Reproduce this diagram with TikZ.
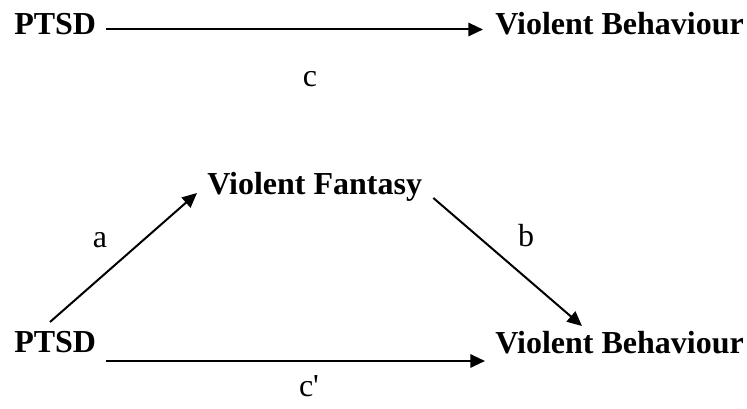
\documentclass[tikz,border=0pt]{standalone}
\usepackage{fontspec}
\setmainfont{Liberation Serif}
\usetikzlibrary{arrows.meta}
\begin{document}
\begin{tikzpicture}[x=0.75pt,y=-0.75pt,
  boxlbl/.style={font=\fontsize{24}{28}\selectfont\bfseries, inner sep=0pt, anchor=base west},
  edgelbl/.style={font=\fontsize{24}{28}\selectfont, inner sep=0pt, anchor=base},
  arr/.style={line width=1.5pt, -{Triangle[length=11pt,width=10pt]}}]
\useasboundingbox (0,0) rectangle (747,409);
% top model
\node[boxlbl] (p1) at (14,35) {PTSD};
\node[boxlbl] (v1) at (495,35) {Violent Behaviour};
\draw[arr] ([shift={(10,-5.5)}]p1.base east) -- ([shift={(-12,-5.5)}]v1.base west);
\node[edgelbl] (c) at (310,87) {c};
% mediation model
\node[boxlbl] (vf) at (207,195) {Violent Fantasy};
\node[boxlbl] (p2) at (14,353) {PTSD};
\node[boxlbl] (v2) at (495,354) {Violent Behaviour};
\draw[arr] ([shift={(36,-31)}]p2.base west) -- ([shift={(-10,-2)}]vf.base west);
\draw[arr] ([shift={(11,3)}]vf.base east) -- ([shift={(87,-28)}]v2.base west);
\draw[arr] ([shift={(10,8)}]p2.base east) -- ([shift={(-10,7)}]v2.base west);
\node[edgelbl] (a) at (100,248) {a};
\node[edgelbl] (b) at (526,247) {b};
\node[edgelbl] (cp) at (309,397) {c\textquotesingle};
\end{tikzpicture}
\end{document}
